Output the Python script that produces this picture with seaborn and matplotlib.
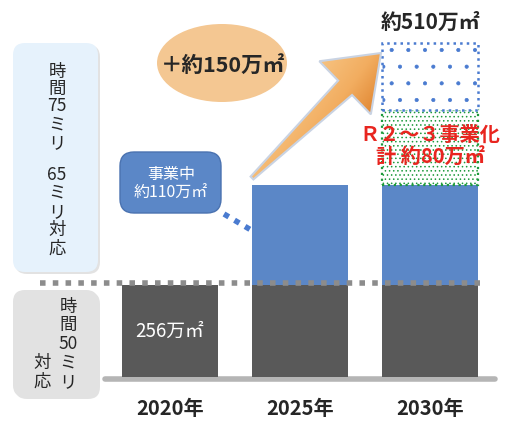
import numpy as np
import matplotlib.pyplot as plt
import matplotlib.patches as mpatches
from matplotlib.colors import LinearSegmentedColormap
import seaborn as sns

# 年度
years = ["2020年", "2025年", "2030年"]
# 図上の高さ（模式図のため面積には比例しない）
base_h = [92, 92, 92]      # 時間50ミリ対応
blue_h = [0, 100, 100]     # 事業中
green_h = [0, 0, 75]       # R2～3事業化
white_h = [0, 0, 67]       # 残り

base_label = "256万㎡"
blue_label = "事業中\n約110万㎡"
green_label = "Ｒ２～３事業化\n計 約80万㎡"
total_label = "約510万㎡"
plus_label = "＋約150万㎡"
upper_box = ["時", "間", "75", "ミ", "リ", "65", "ミ", "リ", "対", "応"]
upper_y = [72, 89, 106, 125, 143, 175, 193, 212, 230, 249]
lower_box1 = ["時", "間", "50", "ミ", "リ"]
lower_y1 = [307, 325, 344, 363, 382]
lower_box2 = ["対", "応"]
lower_y2 = [363, 382]

sns.set_theme(style="white")
plt.rcParams['font.family'] = ['Noto Sans CJK JP', 'DejaVu Sans']

fig = plt.figure(figsize=(5.08, 4.21), dpi=100)
ax = fig.add_axes([105 / 508, 44 / 421, 390 / 508, 340 / 421], zorder=1)

W = 0.746
layers = [
    (base_h, 1.0, dict(color="#595959", linewidth=0)),
    (blue_h, 1.0, dict(color="#5b87c7", linewidth=0)),
    (green_h, 0.6, dict(color="white", edgecolor="#1e9a3c", hatch="....", linewidth=1.6, linestyle=":")),
    (white_h, 0.5, dict(color="white", edgecolor="#4a7bd0", hatch=".", linewidth=1.8, linestyle=":")),
]
bottom = np.zeros(len(years))
for h, hlw, kw in layers:
    plt.rcParams['hatch.linewidth'] = hlw
    h = np.array(h, dtype=float)
    m = h > 0
    sns.barplot(x=np.array(years)[m], y=h[m], order=years, bottom=bottom[m],
                width=W, saturation=1, errorbar=None, ax=ax, **kw)
    bottom = bottom + h

ax.set_xlim(-0.5, 2.5)
ax.set_ylim(0, 340)
ax.set_yticks([])
ax.set_xlabel("")
ax.set_ylabel("")
sns.despine(ax=ax, left=True, bottom=True)
ax.tick_params(axis="x", length=0, pad=15, labelsize=14.5)
for lbl in ax.get_xticklabels():
    lbl.set_fontweight("bold")

# 地面の線と50ミリの点線
ax.axhline(-2, color="#b5b5b5", lw=4, clip_on=False, zorder=0)
ax.axhline(base_h[0] + 2, xmin=(40 - 105) / 390, xmax=(487 - 105) / 390,
           color="#8c8c8c", lw=4, ls=(0, (1, 1.3)), clip_on=False, zorder=5)

ax.text(0, base_h[0] / 2, base_label, color="white", ha="center", va="center", fontsize=13.5)
ax.text(2, bottom[2] + 21, total_label, ha="center", va="center", fontsize=15, fontweight="bold")
ax.text(2, base_h[2] + blue_h[2] + green_h[2] / 2 + 2, green_label, color="#e8251f",
        ha="center", va="center", fontsize=14.5, fontweight="bold", linespacing=1.1)

# 装飾用（ピクセル座標）
ov = fig.add_axes([0, 0, 1, 1], zorder=2)
ov.axis("off")

for (bx, by, bw, bh, fc) in [(13, 43, 85, 229, "#e6f2fc"), (13, 290, 85, 107, "#e2e2e2")]:
    ov.add_patch(mpatches.FancyBboxPatch((bx + 2, by + 2), bw, bh, boxstyle="round,pad=0,rounding_size=12",
                                         fc="#d0d0d0", ec="none", alpha=0.6))
    ov.add_patch(mpatches.FancyBboxPatch((bx, by), bw, bh, boxstyle="round,pad=0,rounding_size=12",
                                         fc=fc, ec="none"))
for s, y in zip(upper_box, upper_y):
    ov.text(57, y, s, ha="center", va="center", fontsize=12.5)
for s, y in zip(lower_box1, lower_y1):
    ov.text(68, y, s, ha="center", va="center", fontsize=12.5)
for s, y in zip(lower_box2, lower_y2):
    ov.text(42, y, s, ha="center", va="center", fontsize=12.5)

ov.add_patch(mpatches.FancyBboxPatch((120, 152), 101, 61, boxstyle="round,pad=0,rounding_size=14",
                                     fc="#5b87c7", ec="#4a72b0", lw=1))
ov.text(171, 184, blue_label, color="white", ha="center", va="center",
        multialignment="center", fontsize=11.5, linespacing=1.15)
ov.plot([224, 251], [214, 230], color="#4a7bd0", lw=4, ls=(0, (1, 1.2)))

ov.add_patch(mpatches.Ellipse((222, 63), 130, 78, fc="#f4c792", ec="none"))
ov.text(223, 65, plus_label, ha="center", va="center", fontsize=15.5, fontweight="bold")

# 矢印（グラデーション）
tail = np.array([252.0, 178.0])
tip = np.array([381.0, 53.0])
u = (tip - tail) / np.linalg.norm(tip - tail)
n = np.array([-u[1], u[0]])
neck = tip - u * 50
pts = np.array([tail + n * 2, neck + n * 10, neck + n * 37, tip,
                neck - n * 37, neck - n * 10, tail - n * 2])
arrow = mpatches.Polygon(pts, closed=True, fc="none", ec="#c9d3e3", lw=1.5, zorder=4)
x0, y0 = pts.min(axis=0) - 2
x1, y1 = pts.max(axis=0) + 2
gx, gy = np.meshgrid(np.linspace(x0, x1, 200), np.linspace(y0, y1, 200))
t = ((gx - tail[0]) * u[0] + (gy - tail[1]) * u[1]) / np.linalg.norm(tip - tail)
s = ((gx - neck[0]) * n[0] + (gy - neck[1]) * n[1]) / 37
g = np.clip(0.3 * t + 0.35 * s + 0.25, 0, 1)
cmap = LinearSegmentedColormap.from_list("or", ["#f8c98a", "#f2ad60", "#d7721a"])
im = ov.imshow(g, cmap=cmap, extent=(x0, x1, y1, y0), origin="upper", zorder=3,
               interpolation="bilinear")
ov.add_patch(arrow)
clip = mpatches.Polygon(pts, closed=True, transform=ov.transData)
im.set_clip_path(clip)

ov.set_xlim(0, 508)
ov.set_ylim(421, 0)
ov.set_aspect("auto")

fig.savefig("out.png", dpi=100)
